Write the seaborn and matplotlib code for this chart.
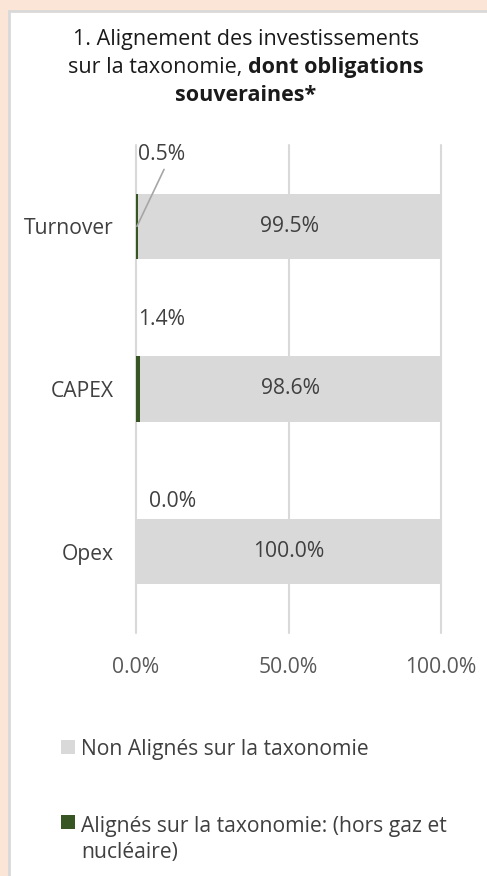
import matplotlib
matplotlib.use("Agg")
import matplotlib.pyplot as plt
import pandas as pd
import seaborn as sns
from matplotlib.patches import Rectangle

# data
categories = ["Turnover", "CAPEX", "Opex"]
aligned = [0.5, 1.4, 0.0]
non_aligned = [99.5, 98.6, 100.0]
x_ticks = [0, 50, 100]
legend_labels = ["Non Alignés sur la taxonomie",
                 "Alignés sur la taxonomie: (hors gaz et\nnucléaire)"]

GREEN = "#375623"
GREY = "#d9d9d9"
PEACH = "#fbe5d6"
TXT = "#404040"
FS = 15.2
TFS = 15.5

sns.set_theme(style="white")
plt.rcParams["font.family"] = ["Open Sans", "DejaVu Sans"]

df = pd.DataFrame({"cat": categories, "aligned": aligned, "non_aligned": non_aligned})
df["total"] = df["aligned"] + df["non_aligned"]

W, H = 487, 876
fig = plt.figure(figsize=(W / 100, H / 100), dpi=100)
fig.patch.set_facecolor(PEACH)
fig.patches.append(Rectangle((9 / W, -0.01), 1.0, 1 - 11 / H + 0.01, transform=fig.transFigure,
                             facecolor="white", edgecolor=GREY, linewidth=2, zorder=-5))

ax = fig.add_axes([136 / W, 1 - 633 / H, 305 / W, 488 / H])
ax.set_facecolor("none")
sns.barplot(data=df, x="total", y="cat", color=GREY, width=0.4, saturation=1,
            linewidth=0, ax=ax)
sns.barplot(data=df, x="aligned", y="cat", color=GREEN, width=0.4, saturation=1,
            linewidth=0, ax=ax)

ax.set_xlim(0, 100)
ax.set_ylim(2.5, -0.5)
ax.set_xticks(x_ticks)
ax.set_xticklabels([f"{t:.1f}%" for t in x_ticks])
ax.set_xlabel("")
ax.set_ylabel("")
ax.grid(axis="x", color=GREY, linewidth=1.5)
ax.set_axisbelow(True)
for gl in ax.get_xgridlines():
    gl.set_clip_on(False)
sns.despine(ax=ax, left=True, bottom=True)
ax.tick_params(axis="x", length=0, pad=17, labelsize=FS, labelcolor="#595959")
ax.tick_params(axis="y", length=0, pad=16, labelsize=FS, labelcolor=TXT)

# value labels
for i, (a, n) in enumerate(zip(aligned, non_aligned)):
    ax.text(a + n / 2, i, f"{n:.1f}%", ha="center", va="center", fontsize=FS, color=TXT)

green_off = [-0.44, -0.43, -0.31]
green_x = [0.7, 0.7, 4.3]
for i, a in enumerate(aligned):
    ax.text(green_x[i], i + green_off[i], f"{a:.1f}%", ha="left", va="center",
            fontsize=FS, color=TXT)
# leader line for the Turnover label
ax.plot([9.2, aligned[0] * 0.6], [-0.35, 0], color="#a6a6a6", linewidth=1.2, clip_on=False)

# title
fig.text(246 / W, 1 - 45 / H, "1. Alignement des investissements", ha="center",
         va="baseline", fontsize=TFS, color="#1a1a1a")
r = fig.canvas.get_renderer()
t1 = fig.text(0, 1 - 73 / H, "sur la taxonomie, ", va="baseline", fontsize=TFS, color="#1a1a1a")
t2 = fig.text(0, 1 - 73 / H, "dont obligations", va="baseline", fontsize=TFS,
              fontweight="bold", color="#1a1a1a")
w1 = t1.get_window_extent(r).width
w2 = t2.get_window_extent(r).width
x0 = 246 - (w1 + w2) / 2
t1.set_x(x0 / W)
t2.set_x((x0 + w1) / W)
fig.text(246 / W, 1 - 101 / H, "souveraines*", ha="center", va="baseline", fontsize=TFS,
         fontweight="bold", color="#1a1a1a")

# legend
for (ysq, ybase, lab, col) in [(754, 755, legend_labels[0], GREY),
                               (829, 858, legend_labels[1], GREEN)]:
    fig.patches.append(Rectangle((61 / W, 1 - ysq / H), 14 / W, 14 / H,
                                 transform=fig.transFigure, facecolor=col, linewidth=0))
    fig.text(81 / W, 1 - ybase / H, lab, ha="left", va="baseline", fontsize=FS,
             color=TXT, linespacing=1.3)

fig.savefig("out.png", dpi=100, facecolor=PEACH)
